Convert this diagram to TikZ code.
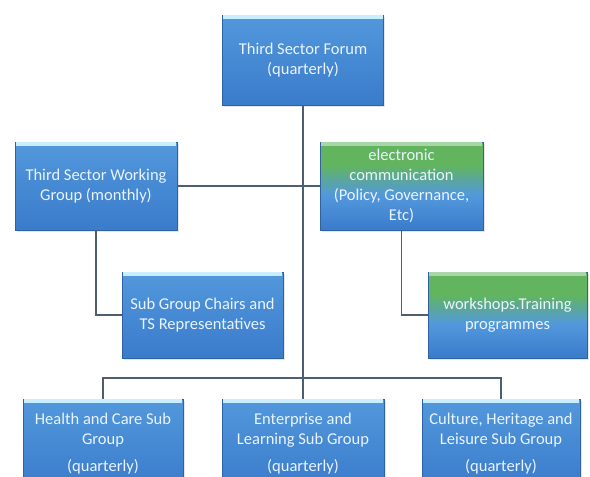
\documentclass[tikz,border=0pt]{standalone}
\usepackage{fontspec}
\setmainfont{Carlito}
\usetikzlibrary{shadows}
\definecolor{boxtop}{HTML}{5398DC}
\definecolor{boxbot}{HTML}{3A7BCB}
\definecolor{boxgreen}{HTML}{62B55E}
\definecolor{boxstrip}{HTML}{C8EEFF}
\definecolor{boxline}{HTML}{4E5E6E}
\definecolor{boxtext}{HTML}{EAF4FF}
\pgfdeclareverticalshading{greenblue}{100bp}{color(0bp)=(boxbot); color(25bp)=(boxbot); color(45bp)=(boxtop); color(62bp)=(boxgreen); color(75bp)=(boxgreen); color(100bp)=(boxgreen)}
\tikzset{
  orgbox/.style={rectangle, draw=boxbot!80!black, line width=0.6pt,
    top color=boxtop, bottom color=boxbot, text=boxtext,
    align=center, inner sep=3pt,
    font=\fontsize{16.5}{20}\selectfont,
    drop shadow={opacity=0.2, shadow xshift=1.5pt, shadow yshift=-1.5pt}},
  greenbox/.style={orgbox, shading=greenblue},
  strip/.style={fill=boxstrip},
  link/.style={draw=boxline, line width=1.4pt}
}
\begin{document}
\begin{tikzpicture}[x=1pt,y=-1pt]
	\fill[white] (0,0) rectangle (590,477);
	\useasboundingbox (0,0) rectangle (590,477);
	\clip (0,0) rectangle (590,477);
	% boxes
	\node[orgbox, minimum width=161pt, minimum height=90pt] (forum) at (303,60)
	{Third Sector Forum\\(quarterly)};
	\node[orgbox, minimum width=162pt, minimum height=88pt] (wg) at (96,186)
	{Third Sector Working\\Group (monthly)};
	\node[greenbox, minimum width=163pt, minimum height=88pt] (elec) at (401.5,186)
	{electronic\\communication\\(Policy, Governance,\\Etc)};
	\node[orgbox, minimum width=161pt, minimum height=86pt] (chairs) at (202.5,315)
	{Sub Group Chairs and\\TS Representatives};
	\node[greenbox, minimum width=159pt, minimum height=86pt] (work) at (507.5,315)
	{workshops.Training\\programmes};
	\node[orgbox, minimum width=160pt, minimum height=90pt] (health) at (103,444)
	{Health and Care Sub\\Group\\[7pt](quarterly)};
	\node[orgbox, minimum width=162pt, minimum height=90pt] (ent) at (303,444)
	{Enterprise and\\Learning Sub Group\\[7pt](quarterly)};
	\node[orgbox, minimum width=158pt, minimum height=90pt] (cult) at (501,444)
	{Culture, Heritage and\\Leisure Sub Group\\[7pt](quarterly)};
	% light strips on top
	\foreach \n in {forum,wg,chairs,health,ent,cult}
	\fill[strip] ([xshift=1pt]\n.north west) rectangle ([xshift=-1pt,yshift=-4pt]\n.north east);
	\foreach \n in {elec,work}
	\fill[strip, fill=boxgreen!55!white] ([xshift=1pt]\n.north west) rectangle ([xshift=-1pt,yshift=-4pt]\n.north east);
	\coordinate (bus) at (303,378);
	% connectors
	\draw[link] (forum.south) -- (ent.north);
	\draw[link] (wg.east) -- (elec.west);
	\draw[link] (health.north) |- (bus) -| (cult.north);
	\draw[link] (wg.south) |- (chairs.west);
	\draw[link] (elec.south) |- (work.west);
\end{tikzpicture}
\end{document}
